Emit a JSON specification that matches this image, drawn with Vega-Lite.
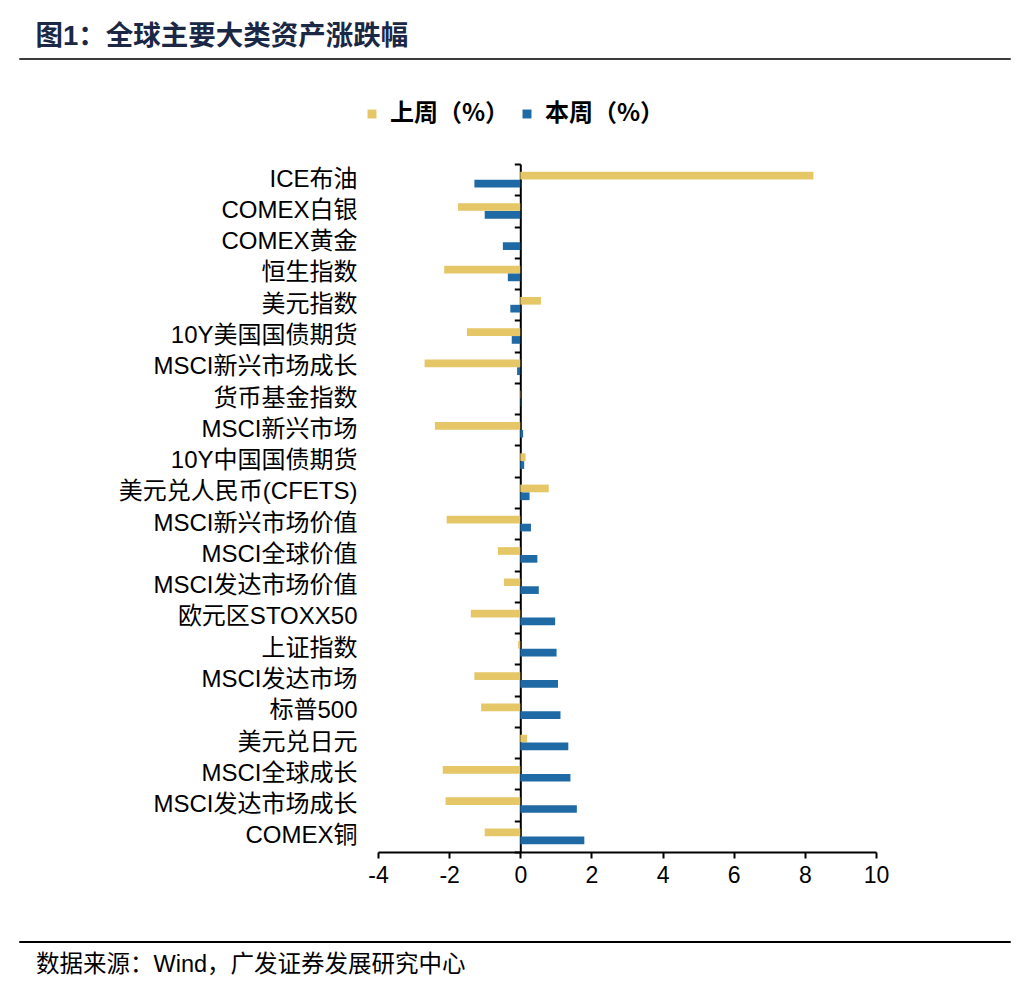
{
  "$schema": "https://vega.github.io/schema/vega-lite/v6.json",
  "background": "white",
  "padding": {"left": 18, "top": 22, "right": 10, "bottom": 10},
  "title": {"text": "图1：全球主要大类资产涨跌幅", "anchor": "start", "dx": 17, "offset": 2, "font": "Liberation Sans, Noto Sans CJK SC", "fontSize": 27.5, "fontWeight": "bold", "color": "#1B2845"},
  "spacing": 38,
  "columns": 1,
  "resolve": {"legend": {"color": "independent"}},
  "concat": [
    {
      "width": 991, "height": 1,
      "view": {"stroke": "#3c3c3c", "strokeWidth": 1, "fill": null},
      "data": {"values": [{"t": ""}]},
      "mark": {"type": "text"},
      "encoding": {"text": {"field": "t"}}
    },
    {
      "spacing": 0,
      "resolve": {"legend": {"color": "independent"}},
      "hconcat": [
        {
          "width": 1, "height": 1,
          "view": {"stroke": null},
          "data": {"values": [{"t": ""}]},
          "mark": {"type": "text"},
          "encoding": {"text": {"field": "t"}}
        },
        {
          "width": 498, "height": 688,
          "view": {"stroke": null},
          "data": {"values": [
            {"cat": "ICE布油", "s": "上周（%）", "v": 8.24}, {"cat": "ICE布油", "s": "本周（%）", "v": -1.29},
            {"cat": "COMEX白银", "s": "上周（%）", "v": -1.75}, {"cat": "COMEX白银", "s": "本周（%）", "v": -1.0},
            {"cat": "COMEX黄金", "s": "上周（%）", "v": 0.0}, {"cat": "COMEX黄金", "s": "本周（%）", "v": -0.49},
            {"cat": "恒生指数", "s": "上周（%）", "v": -2.14}, {"cat": "恒生指数", "s": "本周（%）", "v": -0.35},
            {"cat": "美元指数", "s": "上周（%）", "v": 0.58}, {"cat": "美元指数", "s": "本周（%）", "v": -0.28},
            {"cat": "10Y美国国债期货", "s": "上周（%）", "v": -1.5}, {"cat": "10Y美国国债期货", "s": "本周（%）", "v": -0.24},
            {"cat": "MSCI新兴市场成长", "s": "上周（%）", "v": -2.69}, {"cat": "MSCI新兴市场成长", "s": "本周（%）", "v": -0.09},
            {"cat": "货币基金指数", "s": "上周（%）", "v": 0.01}, {"cat": "货币基金指数", "s": "本周（%）", "v": 0.01},
            {"cat": "MSCI新兴市场", "s": "上周（%）", "v": -2.4}, {"cat": "MSCI新兴市场", "s": "本周（%）", "v": 0.08},
            {"cat": "10Y中国国债期货", "s": "上周（%）", "v": 0.15}, {"cat": "10Y中国国债期货", "s": "本周（%）", "v": 0.11},
            {"cat": "美元兑人民币(CFETS)", "s": "上周（%）", "v": 0.8}, {"cat": "美元兑人民币(CFETS)", "s": "本周（%）", "v": 0.26},
            {"cat": "MSCI新兴市场价值", "s": "上周（%）", "v": -2.07}, {"cat": "MSCI新兴市场价值", "s": "本周（%）", "v": 0.3},
            {"cat": "MSCI全球价值", "s": "上周（%）", "v": -0.63}, {"cat": "MSCI全球价值", "s": "本周（%）", "v": 0.48},
            {"cat": "MSCI发达市场价值", "s": "上周（%）", "v": -0.46}, {"cat": "MSCI发达市场价值", "s": "本周（%）", "v": 0.52},
            {"cat": "欧元区STOXX50", "s": "上周（%）", "v": -1.39}, {"cat": "欧元区STOXX50", "s": "本周（%）", "v": 0.98},
            {"cat": "上证指数", "s": "上周（%）", "v": -0.06}, {"cat": "上证指数", "s": "本周（%）", "v": 1.02},
            {"cat": "MSCI发达市场", "s": "上周（%）", "v": -1.29}, {"cat": "MSCI发达市场", "s": "本周（%）", "v": 1.06},
            {"cat": "标普500", "s": "上周（%）", "v": -1.1}, {"cat": "标普500", "s": "本周（%）", "v": 1.13},
            {"cat": "美元兑日元", "s": "上周（%）", "v": 0.19}, {"cat": "美元兑日元", "s": "本周（%）", "v": 1.35},
            {"cat": "MSCI全球成长", "s": "上周（%）", "v": -2.18}, {"cat": "MSCI全球成长", "s": "本周（%）", "v": 1.41},
            {"cat": "MSCI发达市场成长", "s": "上周（%）", "v": -2.1}, {"cat": "MSCI发达市场成长", "s": "本周（%）", "v": 1.59},
            {"cat": "COMEX铜", "s": "上周（%）", "v": -1.0}, {"cat": "COMEX铜", "s": "本周（%）", "v": 1.8}
          ]},
          "resolve": {"axis": {"y": "independent"}},
          "layer": [
            {
              "mark": {"type": "bar"},
              "encoding": {
                "y": {"field": "cat", "type": "nominal", "sort": null,
                  "scale": {"paddingInner": 0, "paddingOuter": 0},
                  "axis": {"title": " ", "titlePadding": 148, "titleFontSize": 10, "domain": false, "ticks": false, "tickSize": 0, "labelPadding": 21, "labelFont": "Liberation Sans, Noto Sans CJK SC", "labelFontSize": 24, "labelColor": "#000", "labelLimit": 400}},
                "x": {"field": "v", "type": "quantitative",
                  "scale": {"domain": [-4, 10], "nice": false, "zero": false},
                  "axis": {"title": " ", "titleFontSize": 6, "titlePadding": 4, "values": [-4, -2, 0, 2, 4, 6, 8, 10], "labelExpr": "datum.value", "labelFlush": false, "grid": false, "domainColor": "#000", "domainWidth": 2, "tickColor": "#000", "tickWidth": 2, "tickSize": 6, "labelFont": "Liberation Sans", "labelFontSize": 23, "labelColor": "#000", "labelPadding": 6}},
                "yOffset": {"field": "s", "type": "nominal", "sort": null, "scale": {"paddingInner": 0.02, "paddingOuter": 1.06}},
                "color": {"field": "s", "type": "nominal", "sort": null,
                  "scale": {"domain": ["上周（%）", "本周（%）"], "range": ["#E5C767", "#1F6AA5"]},
                  "legend": {"orient": "none", "legendX": -18, "legendY": -62, "direction": "horizontal", "title": null, "symbolType": "square", "symbolSize": 80, "symbolStrokeWidth": 0, "labelFont": "Noto Sans CJK SC", "labelFontSize": 24, "labelFontWeight": "bold", "labelColor": "#000", "columnPadding": 5, "labelOffset": 6}}
              }
            },
            {
              "mark": {"type": "rule", "opacity": 0},
              "encoding": {
                "y": {"field": "cat", "type": "nominal", "sort": null,
                  "axis": {"orient": "left", "offset": -142.3, "labels": false, "title": null, "domain": true, "domainColor": "#000", "domainWidth": 2, "ticks": true, "tickBand": "extent", "tickColor": "#000", "tickWidth": 2, "tickSize": 6, "grid": false}},
                "x": {"datum": 0}
              }
            }
          ]
        }
      ]
    },
    {
      "width": 991, "height": 1,
      "view": {"stroke": "#000", "strokeWidth": 1, "fill": null},
      "title": {"text": "数据来源：Wind，广发证券发展研究中心", "orient": "bottom", "anchor": "start", "dx": 17, "offset": 6, "font": "Liberation Sans, Noto Sans CJK SC", "fontSize": 23.5, "fontWeight": "normal", "color": "#000"},
      "data": {"values": [{"t": ""}]},
      "mark": {"type": "text"},
      "encoding": {"text": {"field": "t"}}
    }
  ]
}
